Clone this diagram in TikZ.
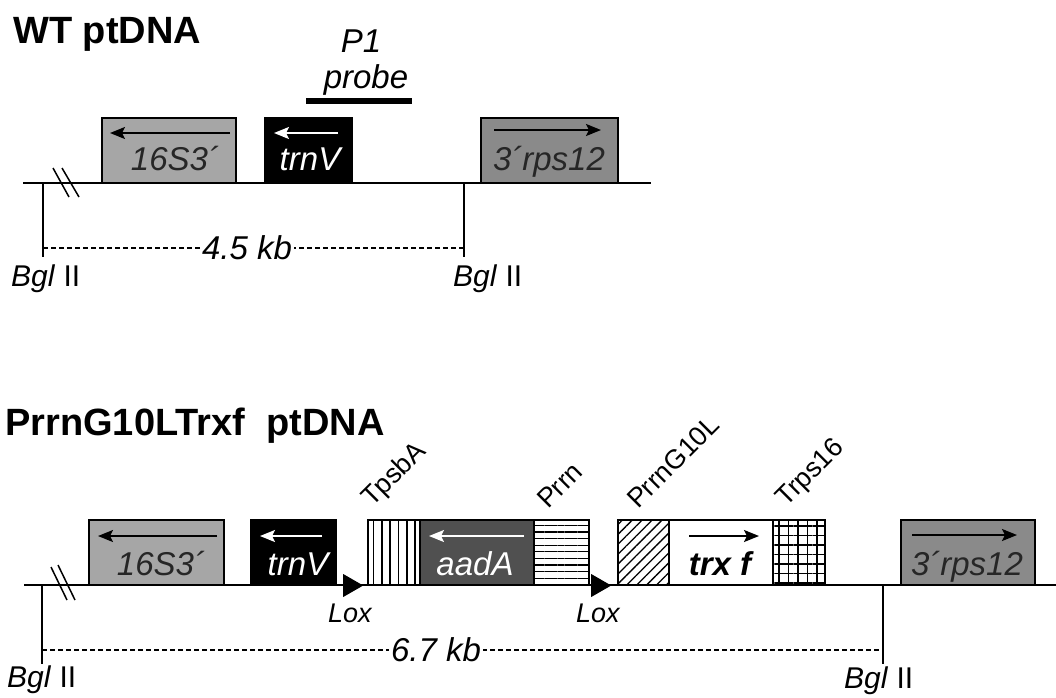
\documentclass[tikz,border=0pt]{standalone}
\usepackage{fontspec}
\setmainfont{Liberation Sans}
\usetikzlibrary{arrows.meta,patterns.meta,shapes.geometric,positioning}

\definecolor{rrngray}{HTML}{A6A6A6}
\definecolor{rpsgray}{HTML}{8A8A8A}
\definecolor{aadgray}{HTML}{505050}
\definecolor{inkgray}{HTML}{262626}

\newcommand{\titlefont}{\fontsize{38}{44}\selectfont\bfseries}
\newcommand{\genefont}{\fontsize{33}{38}\selectfont\itshape}
\newcommand{\partfont}{\fontsize{27}{32}\selectfont}
\newcommand{\sitefont}{\fontsize{30}{36}\selectfont}
\newcommand{\bgl}{\textit{Bgl}~II}

\begin{document}
\begin{tikzpicture}[x=1pt, y=-1pt,
    gene/.style={draw=black, line width=1.5pt, inner sep=0pt, outer sep=0pt, anchor=south west, minimum height=65pt},
    genename/.style={font=\genefont, anchor=base, inner sep=0pt},
    sense/.style={line width=2pt, -{Stealth[length=15pt, width=12pt, inset=3pt]}},
    dna/.style={line width=1.6pt},
    brk/.style={line width=1.5pt},
    bglcut/.style={line width=1.5pt},
    kb/.style={line width=1.4pt, dash pattern=on 5pt off 3pt},
    kbtext/.style={font=\genefont, fill=white, inner sep=2pt},
    lox/.style={isosceles triangle, isosceles triangle stretches, fill=black, inner sep=0pt, minimum height=20pt, minimum width=23pt, anchor=west},
    loxname/.style={font=\fontsize{27}{32}\selectfont\itshape, inner sep=0pt},
    partname/.style={font=\partfont, rotate=45, anchor=base west, inner sep=0pt},
    sitename/.style={font=\sitefont, anchor=base west, inner sep=0pt}]

  \useasboundingbox (0,0) rectangle (1056,697);

  % ---------- WT ptDNA ----------
  \node[font=\titlefont, anchor=base west, inner sep=0pt] (wttitle) at (13,43) {WT ptDNA};

  % probe P1
  \node[font=\genefont, anchor=base, inner sep=0pt] (p1) at (361,52) {P1};
  \node[font=\genefont, anchor=base, inner sep=0pt] (probe) at (366,88) {probe};
  \coordinate (probeL) at (306,101);
  \coordinate (probeR) at (412,101);
  \draw[line width=6pt] (probeL) -- (probeR);

  % backbone
  \coordinate (wtL) at (23,183);
  \coordinate (wtR) at (651,183);
  \draw[dna] (wtL) -- (wtR);
  \draw[brk] (53,168) -- (69,197);
  \draw[brk] (62,168) -- (79,197);

  % genes
  \node[gene, fill=rrngray, minimum width=134pt] (wtrrn) at (102,183) {};
  \node[gene, fill=black, minimum width=87pt] (wttrnv) at (265,183) {};
  \node[gene, fill=rpsgray, minimum width=137pt] (wtrps) at (481,183) {};

  \draw[sense] ([shift={(-6,15)}]wtrrn.north east) -- ([shift={(8,15)}]wtrrn.north west);
  \draw[sense, white] ([shift={(-14,15)}]wttrnv.north east) -- ([shift={(9,15)}]wttrnv.north west);
  \draw[sense] ([shift={(13,12)}]wtrps.north west) -- ([shift={(-17,12)}]wtrps.north east);

  \node[genename, text=inkgray] (wtrrntxt) at (175,170) {16S3´};
  \node[genename, text=white] (wttrnvtxt) at (310,170) {trnV};
  \node[genename, text=inkgray] (wtrpstxt) at (549,170) {3´rps12};

  % Bgl II sites
  \coordinate (wtcut1) at (43,257);
  \coordinate (wtcut2) at (464,257);
  \draw[bglcut] (43,183) -- (wtcut1);
  \draw[bglcut] (464,183) -- (wtcut2);
  \draw[kb] (43,248) -- (464,248);
  \node[kbtext] (wtkb) at (247,248) {4.5 kb};
  \node[sitename] (wtbgl1) at (11,286) {\bgl};
  \node[sitename] (wtbgl2) at (453,286) {\bgl};

  % ---------- PrrnG10LTrxf ptDNA ----------
  \node[font=\titlefont, anchor=base west, inner sep=0pt] (tgtitle) at (5,435) {PrrnG10LTrxf\ \ ptDNA};

  % backbone
  \coordinate (tgL) at (24,585);
  \coordinate (tgR) at (1056,585);
  \draw[dna] (tgL) -- (tgR);
  \draw[brk] (51,567) -- (67,600);
  \draw[brk] (58,565) -- (75,600);

  % genes
  \node[gene, fill=rrngray, minimum width=135pt] (tgrrn) at (89,585) {};
  \node[gene, fill=black, minimum width=85pt] (tgtrnv) at (251,585) {};
  \node[gene, fill=white, pattern={Lines[angle=90, distance=8.3pt, line width=1.6pt]}, minimum width=52pt] (tpsba) at (368,585) {};
  \node[gene, fill=aadgray, minimum width=114pt] (aada) at (420,585) {};
  \node[gene, fill=white, pattern={Lines[angle=0, distance=6.6pt, line width=1.3pt]}, minimum width=55pt] (prrn) at (534,585) {};
  \node[gene, fill=white, pattern={Lines[angle=45, distance=7pt, line width=1.3pt]}, minimum width=51pt] (prrng10) at (618,585) {};
  \node[gene, fill=white, minimum width=104pt] (trxf) at (669,585) {};
  \node[gene, fill=white, pattern={Hatch[distance=9.5pt, line width=1.3pt]}, minimum width=52pt] (trps) at (773,585) {};
  \node[gene, fill=rpsgray, minimum width=134pt] (tgrps) at (901,585) {};

  \draw[sense] ([shift={(-7,16)}]tgrrn.north east) -- ([shift={(9,16)}]tgrrn.north west);
  \draw[sense, white] ([shift={(-14,16)}]tgtrnv.north east) -- ([shift={(9,16)}]tgtrnv.north west);
  \draw[sense, white] ([shift={(-10,16)}]aada.north east) -- ([shift={(9,16)}]aada.north west);
  \draw[sense] ([shift={(20,16)}]trxf.north west) -- ([shift={(-14,16)}]trxf.north east);
  \draw[sense] ([shift={(11,15)}]tgrps.north west) -- ([shift={(-18,15)}]tgrps.north east);

  \node[genename, text=inkgray] (tgrrntxt) at (161,575) {16S3´};
  \node[genename, text=white] (tgtrnvtxt) at (298,575) {trnV};
  \node[genename, text=white] (aadatxt) at (475,575) {aadA};
  \node[genename, font=\genefont\bfseries] (trxftxt) at (720,575) {trx f};
  \node[genename, text=inkgray] (tgrpstxt) at (967,575) {3´rps12};

  % element names
  \node[partname] (tpsbatxt) at (372,508) {TpsbA};
  \node[partname] (prrntxt) at (548,510) {Prrn};
  \node[partname] (prrng10txt) at (638,510) {PrrnG10L};
  \node[partname] (trpstxt) at (786,508) {Trps16};

  % lox sites
  \node[lox] (lox1) at (343,585.5) {};
  \node[lox] (lox2) at (591,585.5) {};
  \node[loxname, below=10pt of lox1] (lox1txt) {Lox};
  \node[loxname, below=10pt of lox2] (lox2txt) {Lox};

  % Bgl II sites
  \coordinate (tgcut1) at (42,664);
  \coordinate (tgcut2) at (883,664);
  \draw[bglcut] (42,585) -- (tgcut1);
  \draw[bglcut] (883,585) -- (tgcut2);
  \draw[kb] (42,650) -- (883,650);
  \node[kbtext] (tgkb) at (436,650) {6.7 kb};
  \node[sitename] (tgbgl1) at (7,687) {\bgl};
  \node[sitename] (tgbgl2) at (844,688) {\bgl};

\end{tikzpicture}
\end{document}
